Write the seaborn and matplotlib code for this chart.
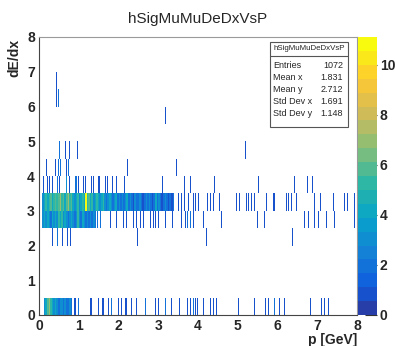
import numpy as np
import pandas as pd
import matplotlib
matplotlib.use("Agg")
import matplotlib.pyplot as plt
import seaborn as sns
from matplotlib.colors import LinearSegmentedColormap, ListedColormap
from matplotlib.patches import Rectangle
from matplotlib.lines import Line2D
from matplotlib.ticker import MultipleLocator

# ---------------- data ----------------
BIN_W = 0.02            # histogram x-bin width (GeV)
RUN_W = 0.04            # width covered by each value of a dense run
x_edges = np.round(np.arange(0, 8.0001, BIN_W), 4)
y_edges = np.arange(0, 8.0001, 0.5)

# dense runs: left edge of first cell + consecutive counts (each 0.04 GeV wide)
run_y325_start = 0.08
run_y325 = [3, 4, 5, 4, 5, 6, 4, 5, 6,
            5, 6, 7, 5, 6, 4, 6, 7, 5, 6,
            4, 3, 4, 5, 3, 4, 5, 4,
            11,
            5, 6, 4, 5, 3, 4, 5, 4, 3, 4, 5,
            3, 2, 3, 4, 3, 2, 3, 4, 2, 3,
            2, 3, 2, 3, 4, 2, 3, 2, 1, 3, 2, 2, 3, 2, 1, 2, 3,
            2, 3, 2, 1, 2, 4, 2, 3, 2, 1, 2, 3, 2, 1, 2, 1, 2]
run_y275_start = 0.08
run_y275 = [3, 4, 3, 4, 3, 2, 4, 3, 4, 3, 5, 4, 5, 3, 4, 3, 2, 3, 4, 3, 2, 3,
            5, 3, 2, 4, 3, 2, 3, 2, 3, 2, 3]
run_y025_start = 0.12
run_y025 = [3, 4, 6, 7, 5, 4, 3, 4, 3, 2, 3, 3, 2, 3, 2, 2, 3, 2]

# sparse bins per dE/dx row
sp_y025_x = [0.88, 0.91, 0.99, 1.12, 1.2, 1.28, 1.33, 1.41, 1.49, 1.58, 1.62, 1.74,
             1.83, 1.91, 1.99, 2.07, 2.16, 2.21, 2.32, 2.45, 2.58, 2.67, 2.93, 3.0,
             3.18, 3.26, 3.33, 3.47, 3.53, 3.72, 3.8, 3.88, 3.93, 3.98, 4.05, 4.13,
             4.3, 4.38, 4.47, 5.01, 5.2, 5.42, 5.68, 5.76, 5.93, 6.05, 6.17, 6.59,
             6.78, 6.83, 6.97, 7.11, 7.18, 7.28]
sp_y025_n = [1, 1, 2, 1, 1, 1, 1, 1, 1, 1, 1, 1,
             2, 2, 1, 1, 1, 1, 1, 1, 2, 2, 1, 1,
             2, 2, 1, 1, 1, 1, 1, 2, 1, 1, 1, 1,
             1, 1, 1, 1, 1, 1, 1, 1, 2, 1, 1, 1,
             1, 1, 1, 1, 1, 1]
sp_y225_x = [0.33, 0.42, 0.47, 0.52, 0.58, 0.7, 0.78, 1.03, 1.12, 2.47, 4.2, 6.37]
sp_y225_n = [1, 1, 2, 2, 1, 1, 1, 1, 1, 1, 1, 1]
sp_y275_x = [1.42, 1.46, 1.5, 1.55, 1.7, 1.78, 1.95, 2.12, 2.2, 2.37, 2.45, 2.55,
             2.63, 2.8, 2.88, 2.93, 3.01, 3.18, 3.26, 3.34, 3.59, 3.68, 3.72, 3.8,
             3.88, 4.05, 4.13, 4.34, 4.59, 5.49, 5.66, 6.66, 6.77, 6.93, 6.97, 7.03,
             7.22, 7.43, 7.93]
sp_y275_n = [2, 2, 2, 2, 1, 1, 1, 1, 1, 1, 1, 1,
             1, 1, 1, 1, 1, 1, 1, 1, 1, 1, 2, 2,
             1, 1, 1, 1, 1, 1, 1, 1, 1, 1, 1, 1,
             1, 1, 1]
sp_y325_x = [3.47, 3.51, 3.59, 3.67, 3.76, 3.88, 3.93, 4.0, 4.22, 4.3, 4.38, 4.55,
             4.63, 4.72, 4.97, 5.05, 5.22, 5.26, 5.34, 5.43, 5.61, 5.72, 5.8, 5.88,
             5.93, 6.0, 6.22, 6.26, 6.34, 6.47, 6.59, 6.93, 7.09, 7.26, 7.37, 7.41,
             7.68, 7.76, 7.93]
sp_y325_n = [1, 1, 1, 1, 1, 1, 1, 1, 1, 1, 1, 1,
             1, 1, 1, 1, 1, 1, 1, 1, 2, 1, 1, 1,
             1, 1, 1, 1, 1, 1, 1, 1, 1, 1, 2, 1,
             1, 1, 1]
sp_y375_x = [0.1, 0.2, 0.27, 0.33, 0.43, 0.47, 0.5, 0.62, 0.68, 0.77, 0.91, 0.95,
             0.99, 1.1, 1.16, 1.33, 1.37, 1.49, 1.53, 1.66, 1.72, 1.85, 1.95, 2.14,
             2.38, 3.1, 3.66, 3.8, 3.95, 4.05, 4.35, 4.41, 5.03, 5.12, 5.53, 5.81,
             6.43, 6.75, 6.88]
sp_y375_n = [1, 1, 1, 1, 2, 2, 1, 1, 3, 1, 2, 2,
             1, 1, 1, 1, 1, 1, 1, 1, 1, 1, 1, 1,
             1, 1, 1, 1, 1, 1, 1, 1, 1, 1, 1, 2,
             1, 1, 1]
sp_y425_x = [0.18, 0.4, 0.49, 0.54, 0.68, 0.74, 1.7, 2.22, 2.38, 3.45, 3.95]
sp_y425_n = [1, 1, 2, 2, 1, 2, 1, 1, 1, 1, 1]
sp_y475_x = [0.51, 0.66, 0.77, 0.96, 5.18]
sp_y475_n = [2, 1, 1, 1, 1]
sp_y525_x = [5.8]
sp_y525_n = [1]
sp_y575_x = [0.15, 3.18]
sp_y575_n = [1, 1]
sp_y625_x = [0.44, 0.49, 0.63]
sp_y625_n = [1, 2, 1]
sp_y675_x = [0.44]
sp_y675_n = [1]

stats_labels = ["Entries", "Mean x", "Mean y", "Std Dev x", "Std Dev y"]
stats_values = ["1072", "1.831", "2.712", "1.691", "1.148"]
hist_name = "hSigMuMuDeDxVsP"

# ---------------- assemble table ----------------
xs, ys, ws = [], [], []
for y, start, run in [(3.25, run_y325_start, run_y325),
                      (2.75, run_y275_start, run_y275),
                      (0.25, run_y025_start, run_y025)]:
    for i, n in enumerate(run):
        left = start + RUN_W * i
        for sub in np.arange(left + BIN_W / 2, left + RUN_W, BIN_W):
            xs.append(sub); ys.append(y); ws.append(n)
for y, sx, sn in [(0.25, sp_y025_x, sp_y025_n), (2.25, sp_y225_x, sp_y225_n),
                  (2.75, sp_y275_x, sp_y275_n), (3.25, sp_y325_x, sp_y325_n),
                  (3.75, sp_y375_x, sp_y375_n), (4.25, sp_y425_x, sp_y425_n),
                  (4.75, sp_y475_x, sp_y475_n), (5.25, sp_y525_x, sp_y525_n),
                  (5.75, sp_y575_x, sp_y575_n), (6.25, sp_y625_x, sp_y625_n),
                  (6.75, sp_y675_x, sp_y675_n)]:
    for x, n in zip(sx, sn):
        xs.append(x); ys.append(y); ws.append(n)
df = pd.DataFrame({"p": xs, "dedx": ys, "w": ws})

# ROOT kBird palette, 20 contour bands
stops = [0.0, 0.125, 0.25, 0.375, 0.5, 0.625, 0.75, 0.875, 1.0]
red = [0.2082, 0.0592, 0.0780, 0.0232, 0.1802, 0.5301, 0.8186, 0.9956, 0.9764]
green = [0.1664, 0.3599, 0.5041, 0.6419, 0.7178, 0.7492, 0.7328, 0.7862, 0.9832]
blue = [0.5293, 0.8684, 0.8385, 0.7914, 0.6425, 0.4662, 0.3499, 0.1968, 0.0539]
bird = LinearSegmentedColormap.from_list(
    "bird", [(s, (r, g, b)) for s, r, g, b in zip(stops, red, green, blue)])
cmap = ListedColormap([bird(min(1.0, (i + 0.99) / 20)) for i in range(20)])
ZMAX = 11.1

# ---------------- plot ----------------
sns.set_theme(style="white")
plt.rcParams["font.family"] = ["Liberation Sans", "DejaVu Sans"]

fig = plt.figure(figsize=(3.95, 3.46), dpi=100)
W, H = 395, 346
ax = fig.add_axes([39 / W, 1 - 315 / H, (357 - 39) / W, (315 - 37) / H])
cax = fig.add_axes([358 / W, 1 - 315 / H, 19 / W, (315 - 37) / H])

sns.histplot(data=df, x="p", y="dedx", weights="w", bins=[x_edges, y_edges],
             cmap=cmap, vmin=0, vmax=ZMAX, thresh=0, cbar=True, cbar_ax=cax,
             ax=ax, linewidth=0, antialiased=True)
mesh = ax.collections[0]
mesh.set_clim(0, ZMAX)

ax.set_xlim(0, 8)
ax.set_ylim(0, 8)
ax.set_xlabel("")
ax.set_ylabel("")
ax.xaxis.set_major_locator(MultipleLocator(1))
ax.xaxis.set_minor_locator(MultipleLocator(0.2))
ax.yaxis.set_major_locator(MultipleLocator(1))
ax.yaxis.set_minor_locator(MultipleLocator(0.2))
ax.tick_params(which="both", direction="in", top=False, right=False,
               color="#555555", width=0.8)
ax.tick_params(which="major", length=8, labelsize=10, pad=3)
ax.tick_params(which="minor", length=4)
for lab in ax.get_xticklabels() + ax.get_yticklabels():
    lab.set_fontweight("bold")
for side, sp in ax.spines.items():
    sp.set_visible(True)
    sp.set_linewidth(0.8)
    sp.set_color("#444444" if side in ("left", "bottom") else "#9a9a9a")

# colour bar
cax.set_ylim(0, ZMAX)
cax.yaxis.set_major_locator(MultipleLocator(2))
cax.yaxis.set_minor_locator(MultipleLocator(100))
cax.tick_params(which="major", direction="in", length=9, width=0.8,
                color="#333333", labelsize=10, pad=2, right=True, left=False,
                labelright=True, labelleft=False)
for lab in cax.get_yticklabels():
    lab.set_fontweight("bold")
for sp in cax.spines.values():
    sp.set_visible(False)

# texts
fig.text(0.5, 1 - 19 / H, hist_name, ha="center", va="center", fontsize=11)
fig.text(357 / W, 1 - 340 / H, "p [GeV]", ha="right", va="center",
         fontsize=10, fontweight="bold")
fig.text(14 / W, 1 - 39 / H, "dE/dx", ha="center", va="top", rotation=90,
         fontsize=10, fontweight="bold")

# stats box
bx0, bx1, by0, by1 = 270, 348, 42, 127
fig.add_artist(Rectangle((bx0 / W, 1 - by1 / H), (bx1 - bx0) / W, (by1 - by0) / H,
                         transform=fig.transFigure, facecolor="white",
                         edgecolor="#555555", linewidth=0.8, zorder=5))
fig.add_artist(Line2D([bx0 / W, bx1 / W], [1 - 55.5 / H, 1 - 55.5 / H],
                      transform=fig.transFigure, color="#555555", linewidth=0.8,
                      zorder=6))
fig.text((bx0 + bx1) / 2 / W, 1 - 49 / H, hist_name, ha="center", va="center",
         fontsize=5.7, zorder=7)
row_y = [66, 78, 90, 101.5, 113.5]
for lab, val, yy in zip(stats_labels, stats_values, row_y):
    fig.text(273 / W, 1 - yy / H, lab, ha="left", va="center", fontsize=6.5, zorder=7)
    fig.text(343 / W, 1 - yy / H, val, ha="right", va="center", fontsize=6.5, zorder=7)

fig.savefig("out.png", dpi=100)
